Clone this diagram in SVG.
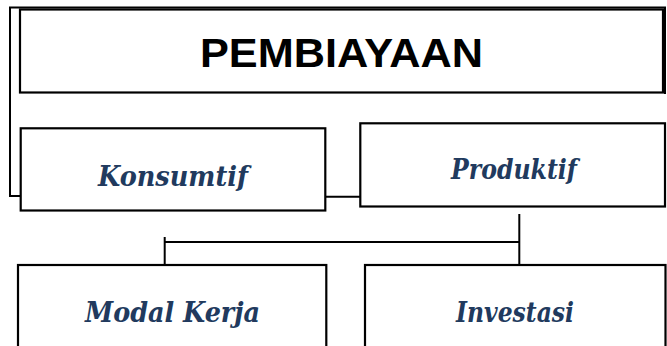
<svg xmlns="http://www.w3.org/2000/svg" width="667" height="346" viewBox="0 0 667 346">
<style>
.box{fill:#fff;stroke:#000;stroke-width:2.2}
.ln{fill:none;stroke:#000;stroke-width:2}
.lbl{font-family:"DejaVu Serif","Liberation Serif",serif;font-weight:bold;font-style:italic;font-size:28px;fill:#213A5E;text-anchor:middle}
.title{font-family:"Liberation Sans",Arial,sans-serif;font-weight:bold;font-size:41px;fill:#000;text-anchor:middle}
</style>
<rect width="667" height="346" fill="#fff"/>
<g id="connectors">
<polyline class="ln" points="21,196 10,196 10,7.5 665,7.5 665,94"/>
<line class="ln" x1="325" y1="196.7" x2="361" y2="196.7"/>
<line class="ln" x1="519.3" y1="214" x2="519.3" y2="266"/>
<line class="ln" x1="165" y1="242" x2="519.3" y2="242"/>
<line class="ln" x1="164.7" y1="237" x2="164.7" y2="266"/>
</g>
<g id="pembiayaan">
<rect class="box" x="20" y="9.5" width="643" height="83"/>
<text class="title" x="341.5" y="67" textLength="283" lengthAdjust="spacingAndGlyphs">PEMBIAYAAN</text>
</g>
<g id="konsumtif">
<rect class="box" x="20.7" y="128.3" width="304.6" height="82.2"/>
<text class="lbl" x="173" y="186" textLength="150" lengthAdjust="spacingAndGlyphs">Konsumtif</text>
</g>
<g id="produktif">
<rect class="box" x="360.3" y="123.3" width="304.7" height="83.2"/>
<text class="lbl" x="514" y="179" textLength="126" lengthAdjust="spacingAndGlyphs">Produktif</text>
</g>
<g id="modal-kerja">
<rect class="box" x="18" y="265" width="308.3" height="100"/>
<text class="lbl" x="172.5" y="322" textLength="175" lengthAdjust="spacingAndGlyphs">Modal Kerja</text>
</g>
<g id="investasi">
<rect class="box" x="365" y="265" width="300.5" height="100"/>
<text class="lbl" x="515" y="322" textLength="118" lengthAdjust="spacingAndGlyphs">Investasi</text>
</g>
</svg>
